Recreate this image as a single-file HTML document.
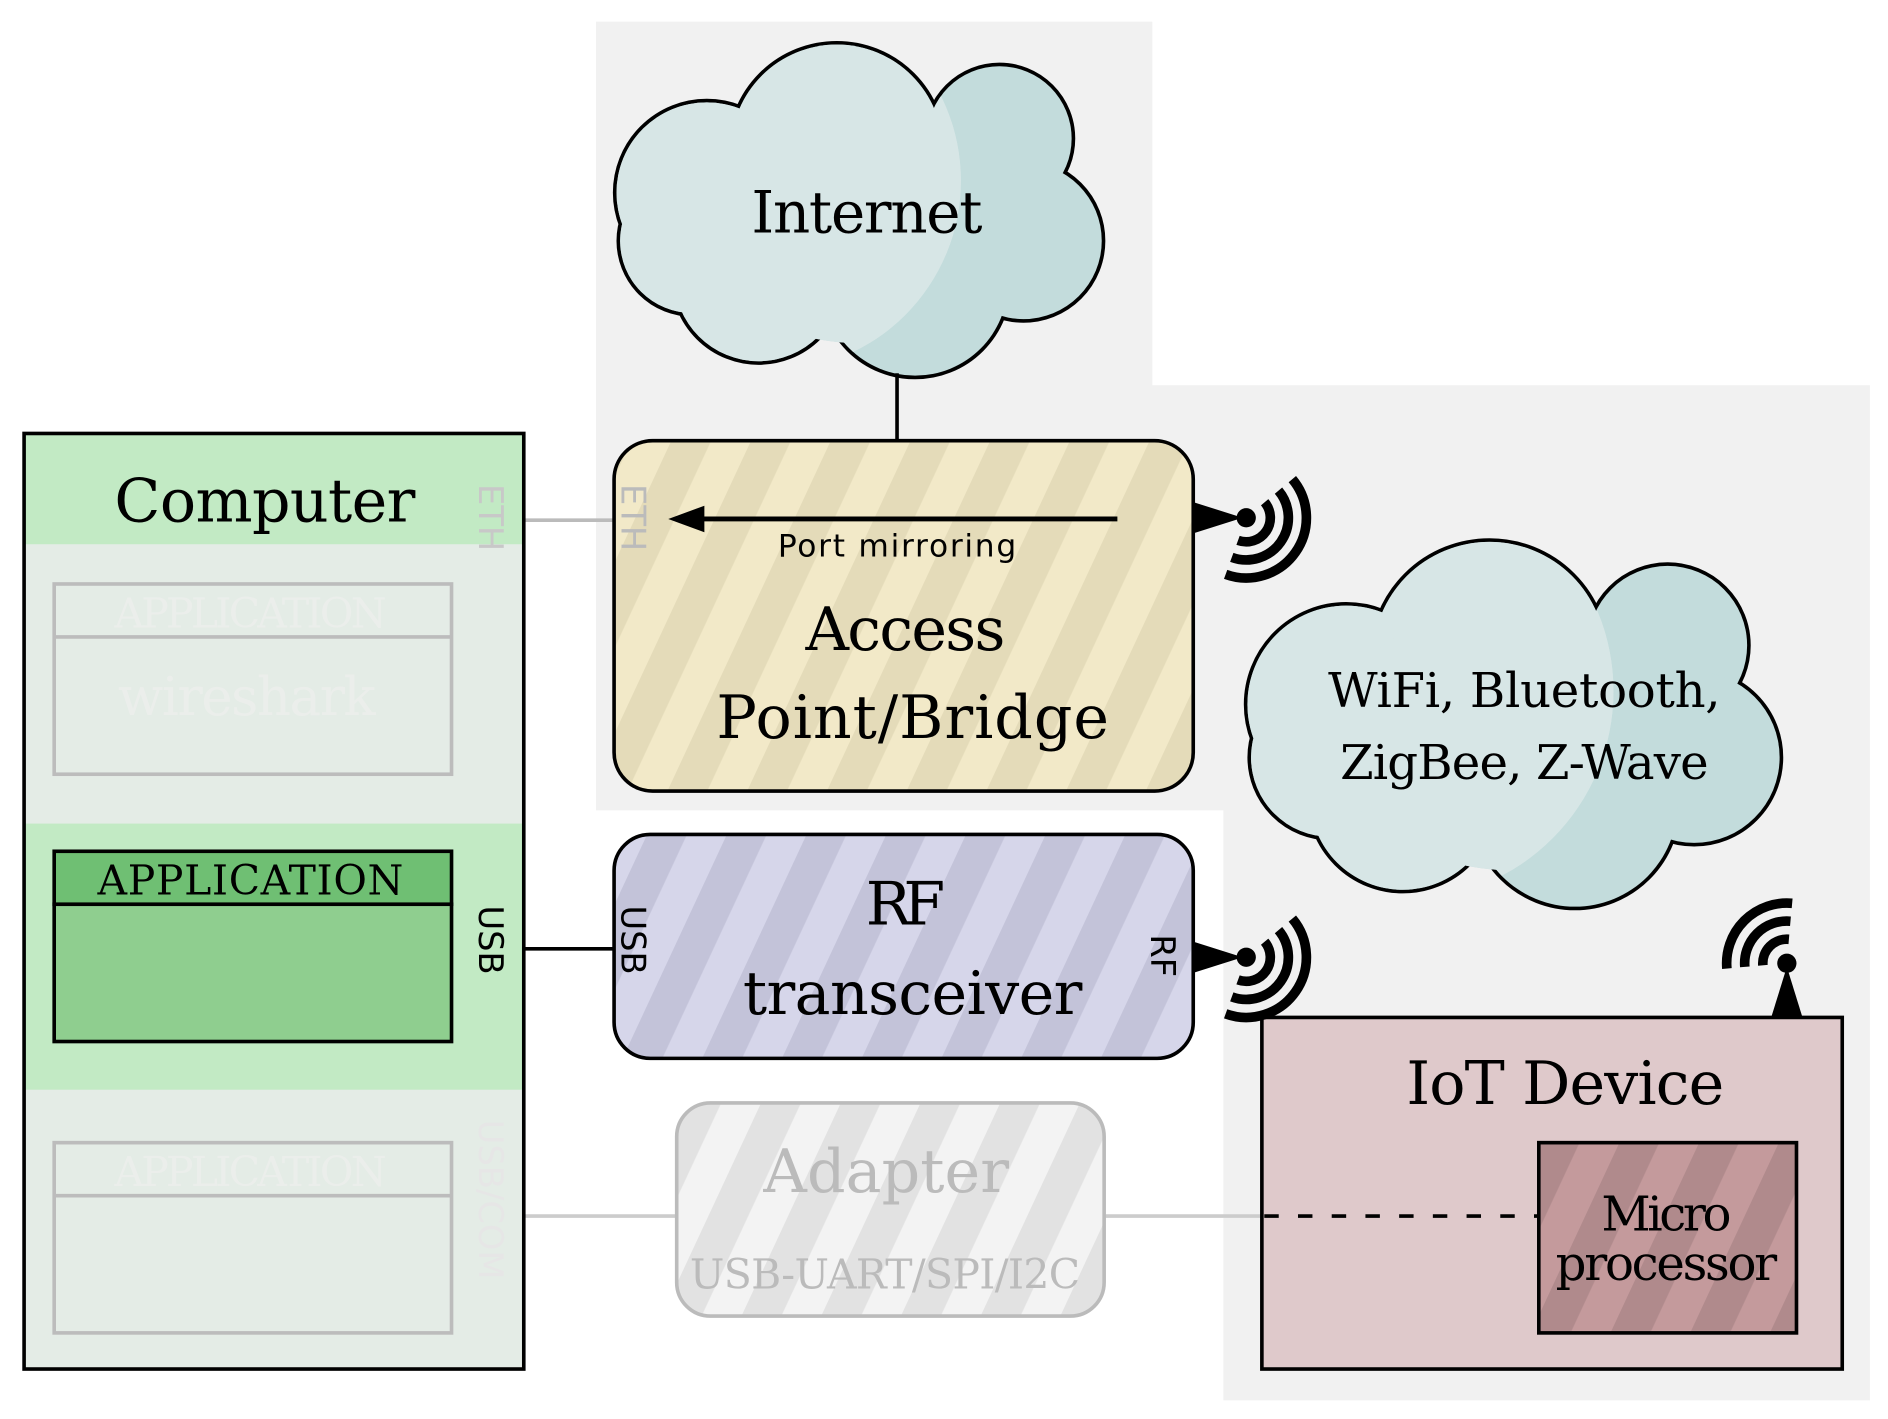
<!DOCTYPE html>
<html><head><meta charset="utf-8"><style>html,body{margin:0;padding:0;background:#fff}svg{display:block}</style></head>
<body>
<svg width="1888" height="1419" viewBox="0 0 1568 1178.5" xmlns="http://www.w3.org/2000/svg">
<defs>
<pattern id="pY" width="60" height="60" patternUnits="userSpaceOnUse" patternTransform="rotate(25)"><rect width="60" height="60" fill="#f2e9c8"/><rect width="30" height="60" fill="#e4dbb9"/></pattern>
<pattern id="pB" width="60" height="60" patternUnits="userSpaceOnUse" patternTransform="rotate(25)"><rect width="60" height="60" fill="#d6d6ea"/><rect width="30" height="60" fill="#c3c3d9"/></pattern>
<pattern id="pG" width="60" height="60" patternUnits="userSpaceOnUse" patternTransform="rotate(25)"><rect width="60" height="60" fill="#f3f3f3"/><rect width="30" height="60" fill="#e2e2e2"/></pattern>
<pattern id="pR" width="60" height="60" patternUnits="userSpaceOnUse" patternTransform="rotate(25)"><rect width="60" height="60" fill="#c49a9c"/><rect width="30" height="60" fill="#b08a8c"/></pattern>
<clipPath id="c1"><circle cx="640" cy="150" r="158"/></clipPath>
<clipPath id="c2"><circle cx="1167" cy="574" r="173"/></clipPath>
<g id="cl1"><circle cx="587" cy="160" r="75"/><circle cx="695" cy="125" r="88"/><circle cx="830" cy="115" r="60"/><circle cx="850" cy="200" r="65"/><circle cx="760" cy="235" r="77"/><circle cx="630" cy="230" r="70"/><circle cx="575" cy="200" r="60"/></g>
<g id="cl2"><circle cx="1118" cy="585" r="82"/><circle cx="1237" cy="547" r="97"/><circle cx="1385" cy="536" r="66"/><circle cx="1407" cy="629" r="71"/><circle cx="1308" cy="668" r="85"/><circle cx="1165" cy="662" r="77"/><circle cx="1105" cy="629" r="66"/></g>
</defs>
<polygon points="495,18 957,18 957,320 1553,320 1553,1163 1016,1163 1016,673 495,673" fill="#f1f1f1"/>

<!-- Internet cloud -->
<use href="#cl1" fill="#c3dcdc" stroke="#000" stroke-width="6"/>
<use href="#cl1" fill="#c3dcdc"/>
<ellipse cx="715" cy="185" rx="140" ry="100" fill="#c3dcdc"/>
<g clip-path="url(#c1)" fill="#d7e6e6"><use href="#cl1"/><ellipse cx="715" cy="185" rx="140" ry="100"/></g>
<text x="720" y="193" font-family="DejaVu Serif, Liberation Serif, serif" font-size="48" text-anchor="middle" textLength="192">Internet</text>

<!-- WiFi cloud -->
<use href="#cl2" fill="#c3dcdc" stroke="#000" stroke-width="6"/>
<use href="#cl2" fill="#c3dcdc"/>
<ellipse cx="1259" cy="613" rx="154" ry="110" fill="#c3dcdc"/>
<g clip-path="url(#c2)" fill="#d7e6e6"><use href="#cl2"/><ellipse cx="1259" cy="613" rx="154" ry="110"/></g>
<g font-family="DejaVu Serif, Liberation Serif, serif" font-size="40" text-anchor="middle">
<text x="1266" y="587" textLength="326">WiFi, Bluetooth,</text>
<text x="1266" y="647" textLength="306">ZigBee, Z-Wave</text>
</g>

<!-- connectors -->
<line x1="745" y1="310" x2="745" y2="366" stroke="#000" stroke-width="3"/>
<line x1="435" y1="432" x2="510" y2="432" stroke="#bbb" stroke-width="3"/>
<line x1="435" y1="788" x2="510" y2="788" stroke="#000" stroke-width="3"/>
<line x1="435" y1="1010" x2="562" y2="1010" stroke="#ccc" stroke-width="3"/>
<line x1="917" y1="1010" x2="1048" y2="1010" stroke="#ccc" stroke-width="3"/>

<!-- Computer -->
<rect x="20" y="360" width="415" height="777" fill="#e4ece6"/>
<rect x="20" y="360" width="415" height="92" fill="#c2eac4"/>
<rect x="20" y="684" width="415" height="221" fill="#c2eac4"/>
<rect x="20" y="360" width="415" height="777" fill="none" stroke="#000" stroke-width="3"/>
<text x="220" y="433" font-family="DejaVu Serif, Liberation Serif, serif" font-size="50" text-anchor="middle" textLength="250">Computer</text>
<g stroke="#bcbcbc" stroke-width="3" fill="none"><rect x="45" y="485" width="330" height="158"/><line x1="45" y1="529" x2="375" y2="529"/><rect x="45" y="949" width="330" height="158"/><line x1="45" y1="993" x2="375" y2="993"/></g>
<g font-family="DejaVu Serif, Liberation Serif, serif" fill="#ebeeeb" text-anchor="middle">
<text x="208" y="521" font-size="34" textLength="226">APPLICATION</text>
<text x="205" y="594" font-size="44" textLength="214">wireshark</text>
<text x="208" y="985" font-size="34" textLength="226">APPLICATION</text>
</g>
<rect x="45" y="707" width="330" height="44" fill="#6fbf73" stroke="#000" stroke-width="3"/>
<rect x="45" y="751" width="330" height="114" fill="#8fce8f" stroke="#000" stroke-width="3"/>
<text x="208" y="743" font-family="DejaVu Serif, Liberation Serif, serif" font-size="34" text-anchor="middle" textLength="254">APPLICATION</text>
<g font-family="DejaVu Sans, Liberation Sans, sans-serif" font-size="28">
<text transform="translate(398,402) rotate(90)" fill="#c8c8c8">ETH</text>
<text transform="translate(398,752) rotate(90)" fill="#000">USB</text>
<text transform="translate(398,930) rotate(90)" fill="#e6e6e6">USB/COM</text>
</g>

<!-- Access point -->
<rect x="510" y="366" width="481" height="291" rx="32" fill="url(#pY)" stroke="#000" stroke-width="3"/>
<text transform="translate(516,402) rotate(90)" font-family="DejaVu Sans, Liberation Sans, sans-serif" font-size="28" fill="#bbb">ETH</text>
<line x1="928" y1="431" x2="580" y2="431" stroke="#000" stroke-width="4"/>
<polygon points="555,431 585,420 585,442" fill="#000"/>
<text x="745" y="462" font-family="DejaVu Sans, Liberation Sans, sans-serif" font-size="26" text-anchor="middle" textLength="198">Port mirroring</text>
<g font-family="DejaVu Serif, Liberation Serif, serif" font-size="50" text-anchor="middle">
<text x="752" y="540" textLength="166">Access</text>
<text x="758" y="613" textLength="326">Point/Bridge</text>
</g>

<!-- RF -->
<rect x="510" y="693" width="481" height="186" rx="30" fill="url(#pB)" stroke="#000" stroke-width="3"/>
<g font-family="DejaVu Sans, Liberation Sans, sans-serif" font-size="28">
<text transform="translate(516,752) rotate(90)">USB</text>
<text transform="translate(956,776) rotate(90)">RF</text>
</g>
<g font-family="DejaVu Serif, Liberation Serif, serif" font-size="50" text-anchor="middle">
<text x="752" y="768" textLength="66">RF</text>
<text x="758" y="842" textLength="282">transceiver</text>
</g>

<!-- Adapter -->
<rect x="562" y="916" width="355" height="177" rx="28" fill="url(#pG)" stroke="#bbb" stroke-width="3"/>
<g font-family="DejaVu Serif, Liberation Serif, serif" fill="#bbb" text-anchor="middle">
<text x="736" y="990" font-size="50" textLength="204">Adapter</text>
<text x="735" y="1070" font-size="34" textLength="324">USB-UART/SPI/I2C</text>
</g>

<!-- IoT -->
<rect x="1048" y="845" width="482" height="292" fill="#dfc9cb" stroke="#000" stroke-width="3"/>
<line x1="1050" y1="1010" x2="1278" y2="1010" stroke="#000" stroke-width="3" stroke-dasharray="12,16"/>
<text x="1300" y="917" font-family="DejaVu Serif, Liberation Serif, serif" font-size="50" text-anchor="middle" textLength="264">IoT Device</text>
<rect x="1278" y="949" width="214" height="158" fill="url(#pR)" stroke="#000" stroke-width="3"/>
<g font-family="DejaVu Serif, Liberation Serif, serif" font-size="40" text-anchor="middle">
<text x="1384" y="1022" textLength="108">Micro</text>
<text x="1384" y="1063" textLength="184">processor</text>
</g>

<!-- antennas -->
<g fill="#000"><polygon points="991,417 991,443 1032,430"/><circle cx="1035" cy="430" r="8"/>
<polygon points="991,782 991,808 1032,795"/><circle cx="1035" cy="795" r="8"/>
<polygon points="1471,845 1497,845 1484,803"/><circle cx="1484" cy="800" r="8"/></g>
<g fill="none" stroke="#000" stroke-width="8">
<path d="M1050.3,417.1 A20,20 0 0 1 1028.2,448.8 M1061.8,407.5 A35,35 0 0 1 1023,462.9 M1073.3,397.9 A50,50 0 0 1 1017.9,477"/>
<path d="M1050.3,782.1 A20,20 0 0 1 1028.2,813.8 M1061.8,772.5 A35,35 0 0 1 1023,827.9 M1073.3,762.9 A50,50 0 0 1 1017.9,842"/>
<path d="M1464.1,801.7 A20,20 0 0 1 1485.7,780.1 M1449.1,803 A35,35 0 0 1 1487,765.1 M1434.2,804.4 A50,50 0 0 1 1488.4,750.2"/>
</g>
</svg>
</body></html>
